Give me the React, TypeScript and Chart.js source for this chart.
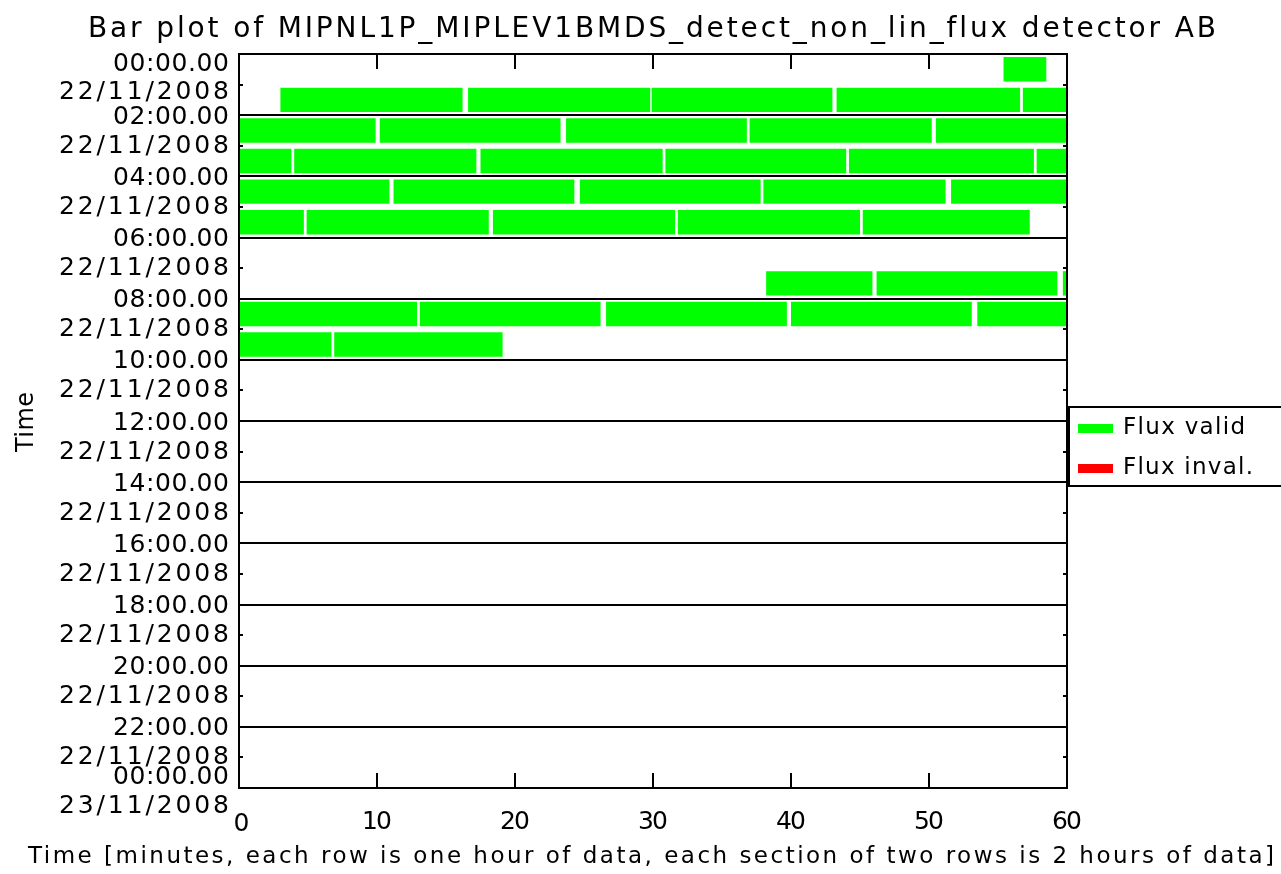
import React, { useEffect, useRef } from 'react';
import { Chart, registerables } from 'chart.js';

Chart.register(...registerables);

const chartTitle = 'Bar plot of MIPNL1P_MIPLEV1BMDS_detect_non_lin_flux detector AB';
const xAxisTitle = 'Time [minutes, each row is one hour of data, each section of two rows is 2 hours of data]';
const yAxisTitle = 'Time';

const hourLabels = ['00', '01', '02', '03', '04', '05', '06', '07', '08', '09', '10', '11',
  '12', '13', '14', '15', '16', '17', '18', '19', '20', '21', '22', '23'];
const xTicks = [0, 10, 20, 30, 40, 50, 60];
const sectionTimes = ['00:00.00', '02:00.00', '04:00.00', '06:00.00', '08:00.00', '10:00.00',
  '12:00.00', '14:00.00', '16:00.00', '18:00.00', '20:00.00', '22:00.00', '00:00.00'];
const sectionDates = ['22/11/2008', '22/11/2008', '22/11/2008', '22/11/2008', '22/11/2008', '22/11/2008',
  '22/11/2008', '22/11/2008', '22/11/2008', '22/11/2008', '22/11/2008', '22/11/2008', '23/11/2008'];

// valid flux segments [start minute, end minute] per hour row
const hour00 = [[55.4, 58.5]];
const hour01 = [[3.0, 16.2], [16.6, 29.8], [29.9, 43.0], [43.3, 56.6], [56.8, 60]];
const hour02 = [[0, 9.9], [10.2, 23.3], [23.7, 36.8], [37.0, 50.2], [50.5, 60]];
const hour03 = [[0, 3.8], [4.0, 17.2], [17.5, 30.7], [30.9, 44.0], [44.2, 57.6], [57.8, 60]];
const hour04 = [[0, 10.9], [11.2, 24.3], [24.7, 37.8], [38.0, 51.2], [51.6, 60]];
const hour05 = [[0, 4.7], [4.9, 18.1], [18.4, 31.6], [31.8, 45.0], [45.2, 57.3]];
const hour06: number[][] = [];
const hour07 = [[38.2, 45.9], [46.2, 59.3], [59.7, 60]];
const hour08 = [[0, 12.9], [13.1, 26.2], [26.6, 39.7], [40.0, 53.1], [53.5, 60]];
const hour09 = [[0, 6.7], [6.9, 19.1]];
const hour10: number[][] = [];
const hour11: number[][] = [];
const hour12: number[][] = [];
const hour13: number[][] = [];
const hour14: number[][] = [];
const hour15: number[][] = [];
const hour16: number[][] = [];
const hour17: number[][] = [];
const hour18: number[][] = [];
const hour19: number[][] = [];
const hour20: number[][] = [];
const hour21: number[][] = [];
const hour22: number[][] = [];
const hour23: number[][] = [];

const validSegments = [hour00, hour01, hour02, hour03, hour04, hour05, hour06, hour07,
  hour08, hour09, hour10, hour11, hour12, hour13, hour14, hour15, hour16, hour17,
  hour18, hour19, hour20, hour21, hour22, hour23];
const invalidSegments: number[][][] = hourLabels.map(() => []);

const VALID_COLOR = '#00ff00';
const INVALID_COLOR = '#ff0000';
const FONT = '"DejaVu Sans", sans-serif';

function fitText(ctx: CanvasRenderingContext2D, text: string, x: number, y: number,
  width: number, size: number, align: CanvasTextAlign) {
  ctx.save();
  ctx.font = `${size}px ${FONT}`;
  (ctx as any).letterSpacing = '0px';
  const base = ctx.measureText(text).width;
  const sp = (width - base) / Math.max(1, text.length - 1);
  (ctx as any).letterSpacing = `${sp}px`;
  ctx.textBaseline = 'middle';
  ctx.fillStyle = '#000';
  let sx = x;
  if (align === 'center') sx = x - width / 2;
  else if (align === 'right') sx = x - width;
  ctx.textAlign = 'left';
  ctx.fillText(text, sx, y);
  ctx.restore();
}

const decorPlugin = {
  id: 'decor',
  beforeDraw(chart: any) {
    const ctx = chart.ctx as CanvasRenderingContext2D;
    ctx.save();
    ctx.fillStyle = '#fff';
    ctx.fillRect(0, 0, chart.width, chart.height);
    ctx.restore();
  },
  afterDatasetsDraw(chart: any) {
    const ctx = chart.ctx as CanvasRenderingContext2D;
    const xs = chart.scales.x;
    const ys = chart.scales.y;
    const { left, right, top, bottom } = chart.chartArea;
    ctx.save();
    ctx.strokeStyle = '#000';
    ctx.lineWidth = 2;
    // section lines
    for (let k = 1; k < 12; k++) {
      const y = Math.round(ys.getPixelForValue(k * 2 - 0.5));
      ctx.beginPath();
      ctx.moveTo(left, y);
      ctx.lineTo(right, y);
      ctx.stroke();
    }
    // small hour ticks on sides
    for (let k = 0; k < 12; k++) {
      const y = Math.round(ys.getPixelForValue(k * 2 + 0.5));
      ctx.beginPath();
      ctx.moveTo(left, y);
      ctx.lineTo(left + 4, y);
      ctx.moveTo(right, y);
      ctx.lineTo(right - 4, y);
      ctx.stroke();
    }
    // x ticks top and bottom
    xTicks.forEach((t) => {
      if (t === 0 || t === 60) return;
      const x = Math.round(xs.getPixelForValue(t));
      ctx.beginPath();
      ctx.moveTo(x, top);
      ctx.lineTo(x, top + 15);
      ctx.moveTo(x, bottom);
      ctx.lineTo(x, bottom - 15);
      ctx.stroke();
    });
    ctx.strokeRect(left, top, right - left, bottom - top);

    // x tick labels
    xTicks.forEach((t) => {
      const x = xs.getPixelForValue(t);
      const s = String(t);
      fitText(ctx, s, x + (t === 0 ? 2 : 0), bottom + (t === 0 ? 36 : 34), s.length * 15, 25, 'center');
    });

    // y labels
    for (let k = 0; k <= 12; k++) {
      const y = ys.getPixelForValue(k * 2 - 0.5);
      let ty = y + 2;
      let dy = y + 31;
      if (k === 0) { ty = y + 10; dy = y + 38; }
      if (k === 12) { ty = y - 11; dy = y + 18; }
      fitText(ctx, sectionTimes[k], 229, ty, 116, 25, 'right');
      fitText(ctx, sectionDates[k], 229, dy, 170, 25, 'right');
    }

    // title
    fitText(ctx, chartTitle, 652, 30, 1128, 28, 'center');
    // x title
    fitText(ctx, xAxisTitle, 651, 857, 1246, 23, 'center');
    // y title
    ctx.save();
    ctx.translate(27, 422);
    ctx.rotate(-Math.PI / 2);
    fitText(ctx, yAxisTitle, 0, 0, 60, 24, 'center');
    ctx.restore();

    // legend
    ctx.lineWidth = 2;
    ctx.strokeRect(1069, 407, 230, 79);
    ctx.fillStyle = VALID_COLOR;
    ctx.fillRect(1078, 424, 35, 9);
    ctx.fillStyle = INVALID_COLOR;
    ctx.fillRect(1078, 464, 35, 9);
    fitText(ctx, chart.data.datasets[0].label, 1123, 428, 122, 23, 'left');
    fitText(ctx, chart.data.datasets[chart.data.datasets.length - 1].label, 1123, 468, 130, 23, 'left');
    ctx.restore();
  },
};

export default function App() {
  const ref = useRef<HTMLCanvasElement | null>(null);
  useEffect(() => {
    document.body.style.margin = '0';
    const maxSegs = Math.max(...validSegments.map((s) => s.length));
    const datasets: any[] = [];
    for (let k = 0; k < maxSegs; k++) {
      datasets.push({
        label: 'Flux valid',
        data: validSegments.map((s) => (s[k] ? s[k] : null)),
        backgroundColor: VALID_COLOR,
        borderWidth: 0,
        grouped: false,
        barPercentage: 0.8,
        categoryPercentage: 1,
      });
    }
    datasets.push({
      label: 'Flux inval.',
      data: invalidSegments.map((s) => (s[0] ? s[0] : null)),
      backgroundColor: INVALID_COLOR,
      borderWidth: 0,
      grouped: false,
      barPercentage: 0.8,
      categoryPercentage: 1,
    });
    const chart = new Chart(ref.current!, {
      type: 'bar',
      data: { labels: hourLabels, datasets },
      options: {
        indexAxis: 'y',
        animation: false,
        responsive: false,
        maintainAspectRatio: false,
        layout: { padding: { left: 239, top: 54, right: 214, bottom: 86 } },
        plugins: { legend: { display: false }, tooltip: { enabled: false }, title: { display: false } },
        scales: {
          x: { type: 'linear', min: 0, max: 60, display: false },
          y: { type: 'category', display: false, offset: true },
        },
      } as any,
      plugins: [decorPlugin],
    });
    return () => chart.destroy();
  }, []);
  return (
    <canvas ref={ref} width={1281} height={874}
      style={{ position: 'absolute', left: 0, top: 0, width: 1281, height: 874 }} />
  );
}
